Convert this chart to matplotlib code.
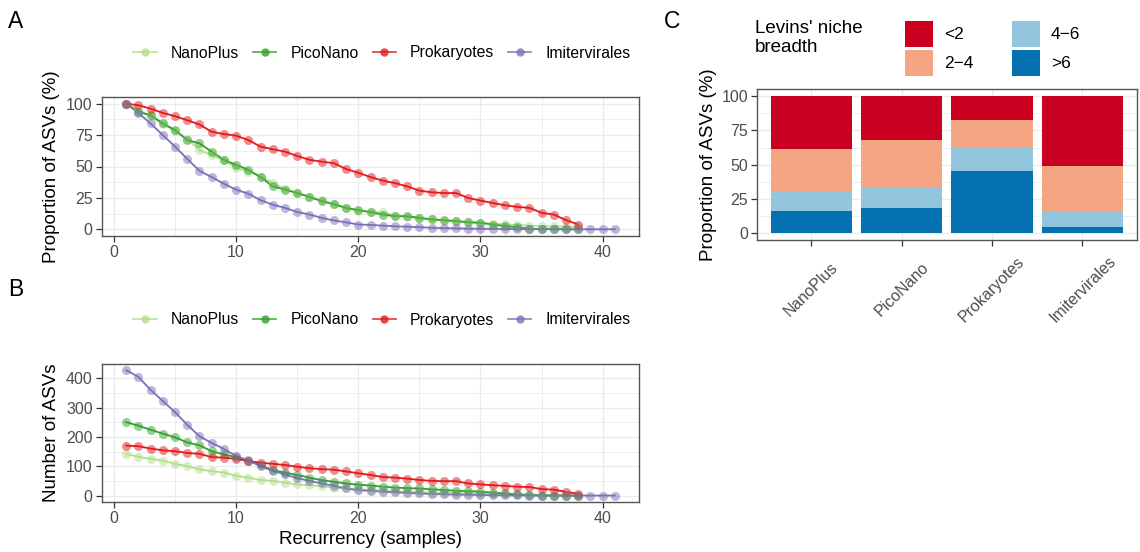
import numpy as np
import matplotlib
matplotlib.use("Agg")
import matplotlib.pyplot as plt
from matplotlib.lines import Line2D
from matplotlib.patches import Patch

plt.rcParams['font.family'] = ['Liberation Sans', 'DejaVu Sans']

# ---------------------------------------------------------------------------
# Data
# ---------------------------------------------------------------------------
GROUPS = ['NanoPlus', 'PicoNano', 'Prokaryotes', 'Imitervirales']
COLORS = ['#B2DF8A', '#33A02C', '#E31A1C', '#7C70B8']

# Panel A: proportion of ASVs (%) present in >= n samples
PROP = {
    'NanoPlus': [100, 95, 90, 84, 78, 72, 63, 59, 55, 49, 46, 42, 37, 32, 29, 26,
                 23, 20, 17, 15, 14, 13.5, 11, 10, 9, 8, 7, 6.5, 5.5, 5, 4.5, 4,
                 3.5, 3, 2.5, 2.5, 2.2, 2],
    'PicoNano': [100, 93.4, 90.8, 84.2, 79, 71, 68.4, 61.8, 55.3, 51.3, 47.4, 41.6,
                 34.2, 31.6, 28.9, 25.8, 22.4, 20, 17.1, 15.3, 13.7, 11.8, 10.5,
                 10.5, 9.2, 7.9, 7.4, 6.6, 5.8, 5.3, 3.9, 2.6, 1.8, 0.5, 0.3, 0.2,
                 0.1, 0.1],
    'Prokaryotes': [100, 98.7, 96, 92.6, 90, 86.8, 83.4, 77.6, 75.8, 74.5, 71, 65.8,
                    63.7, 61.8, 58.4, 55.3, 53.9, 52.6, 48, 45, 41.6, 38.8, 36.8,
                    34.2, 30.8, 29.5, 28.9, 28.9, 25, 22.9, 21, 19.2, 17.9, 17.1,
                    13.2, 11.8, 7.4, 3.9],
    'Imitervirales': [100, 92.6, 84.2, 75, 65.8, 56, 46.6, 41.6, 36.3, 31.6, 28.4,
                      23.2, 19.7, 17.1, 13.9, 11.8, 9.2, 7.1, 5.6, 3.9, 3.6, 3.0,
                      2.5, 2.1, 1.8, 1.3, 1.0, 0.8, 0.6, 0.5, 0.4, 0.3, 0.3, 0.2,
                      0.2, 0.2, 0.1, 0.1, 0.1, 0.1, 0.1],
}

# Panel B: number of ASVs present in >= n samples
COUNT = {
    'NanoPlus': [143, 133, 126, 120, 109, 101, 90, 84, 79, 68, 62, 54, 51, 45, 39,
                 36, 33, 28, 25, 22, 20, 19, 15, 14, 13, 11, 10, 9, 8, 7, 6.5, 6,
                 5, 4.5, 3.5, 3.5, 3, 3],
    'PicoNano': [251, 239, 225, 212, 199, 182, 172, 152, 141, 132, 120, 104, 88, 79,
                 71, 62, 53, 48, 42, 38, 35, 31, 28, 26, 25, 22, 20, 17, 16, 14, 11,
                 8, 5, 2, 1, 0.5, 0.3, 0.3],
    'Prokaryotes': [171, 169, 161, 155, 152, 146, 143, 132, 130, 126, 118, 113, 109,
                    105, 99, 94, 91, 89, 83, 77, 71, 64, 62, 58.6, 54, 51, 50, 50,
                    42, 39, 36, 34, 31, 30, 23, 21, 13.5, 7],
    'Imitervirales': [428, 405, 361, 323, 285, 242, 203, 180, 160, 135, 121, 101, 85,
                      73, 60, 51, 42, 34, 25, 19, 17, 14, 12, 10, 8, 6, 5, 4, 3.4,
                      3, 2, 1.5, 1.2, 1, 1, 1, 1, 1, 1, 1, 1],
}

# Panel C: Levins' niche breadth categories (% of ASVs), bottom to top
BREADTH = ['>6', '4\u22126', '2\u22124', '<2']
BREADTH_COLORS = ['#0571B0', '#92C5DE', '#F4A582', '#CA0020']
BREADTH_PCT = {
    '>6':   [16.1, 18.2, 45.1, 4.6],
    '4\u22126': [14.1, 15.6, 17.7, 11.9],
    '2\u22124': [31.4, 34.3, 19.5, 32.7],
    '<2':   [38.4, 31.9, 17.7, 50.8],
}
LEGEND_ORDER = ['<2', '2\u22124', '4\u22126', '>6']

# ---------------------------------------------------------------------------
# Figure layout (pixel based)
# ---------------------------------------------------------------------------
W, H = 1140, 552
fig = plt.figure(figsize=(W / 100, H / 100), dpi=100)


def px_axes(left, top, right, bottom):
    return fig.add_axes([left / W, 1 - bottom / H, (right - left) / W, (bottom - top) / H])


TICK_COL = '#4D4D4D'
GRID_COL = '#EBEBEB'
TITLE_FS = 13.5
TICK_FS = 11.5


def style_axes(ax):
    for s in ax.spines.values():
        s.set_color('#555555')
        s.set_linewidth(1.0)
    ax.tick_params(axis='both', which='major', length=4, width=0.9, color='#333333',
                   labelcolor=TICK_COL, labelsize=TICK_FS, pad=2.5)
    ax.tick_params(axis='both', which='minor', length=0)
    ax.grid(True, which='major', color=GRID_COL, linewidth=1.0, zorder=0)
    ax.grid(True, which='minor', color=GRID_COL, linewidth=0.6, zorder=0)
    ax.set_axisbelow(True)


def line_panel(ax, data):
    for g, c in zip(GROUPS, COLORS):
        y = np.array(data[g], dtype=float)
        x = np.arange(1, len(y) + 1)
        ax.plot(x, y, color=c, lw=1.3, zorder=3)
        ax.plot(x, y, 'o', color=c, ms=6.5, alpha=0.5, mec='none', zorder=4)
    ax.set_xlim(-1, 43)
    ax.set_xticks([0, 10, 20, 30, 40])
    ax.set_xticks([5, 15, 25, 35], minor=True)
    style_axes(ax)


# Panel A
axA = px_axes(101.7, 97.3, 639.3, 235.7)
line_panel(axA, PROP)
axA.set_ylim(-5, 105)
axA.set_yticks([0, 25, 50, 75, 100])
axA.set_yticks([12.5, 37.5, 62.5, 87.5], minor=True)
axA.set_ylabel('Proportion of ASVs (%)', fontsize=TITLE_FS)
axA.yaxis.set_label_coords(-0.078, 0.5)

# Panel B
axB = px_axes(101.7, 364.3, 639.3, 501.7)
line_panel(axB, COUNT)
axB.set_ylim(-20, 448)
axB.set_yticks([0, 100, 200, 300, 400])
axB.set_yticks([50, 150, 250, 350], minor=True)
axB.set_ylabel('Number of ASVs', fontsize=TITLE_FS)
axB.yaxis.set_label_coords(-0.078, 0.5)
axB.set_xlabel('Recurrency (samples)', fontsize=TITLE_FS)
axB.xaxis.set_label_coords(0.5, -0.215)

# Line legends
handles = [Line2D([0], [0], color=c, lw=1.3, marker='o', ms=6,
                  markerfacecolor=c, markeredgecolor='none', alpha=0.8)
           for c in COLORS]
for yc in (53, 320):
    fig.legend(handles, GROUPS, loc='center', bbox_to_anchor=(382 / W, 1 - yc / H),
               ncol=4, frameon=False, fontsize=11.3, handlelength=1.47,
               handletextpad=0.9, columnspacing=0.9, borderpad=0)

# Panel C
axC = px_axes(757, 89.3, 1136.7, 240)
xpos = np.arange(1, len(GROUPS) + 1)
bottom = np.zeros(len(GROUPS))
for b, c in zip(BREADTH, BREADTH_COLORS):
    vals = np.array(BREADTH_PCT[b])
    axC.bar(xpos, vals, width=0.9, bottom=bottom, color=c, zorder=3)
    bottom += vals
axC.set_xlim(0.4, 4.6)
axC.set_ylim(-5, 105)
axC.set_xticks(xpos)
axC.set_xticklabels([])
axC.set_yticks([0, 25, 50, 75, 100])
axC.set_yticks([12.5, 37.5, 62.5, 87.5], minor=True)
style_axes(axC)
for xp, g in zip(xpos, GROUPS):
    axC.text(xp, -0.325, g, transform=axC.get_xaxis_transform(), rotation=45,
             ha='center', va='center', rotation_mode='anchor',
             fontsize=TICK_FS, color=TICK_COL)
axC.set_ylabel('Proportion of ASVs (%)', fontsize=TITLE_FS)
axC.yaxis.set_label_coords(-0.105, 0.5)

fig.text(755 / W, 1 - 38 / H, "Levins' niche\nbreadth", fontsize=13.5, va='center',
         ha='left', linespacing=1.15)
patches = [Patch(facecolor=BREADTH_COLORS[BREADTH.index(k)]) for k in LEGEND_ORDER]
fig.legend(patches, LEGEND_ORDER, loc='upper left',
           bbox_to_anchor=(905 / W, 1 - 20.7 / H), ncol=2, frameon=False,
           fontsize=12.5, handlelength=1.61, handleheight=1.96, labelspacing=0.14,
           handletextpad=0.65, columnspacing=2.2, borderpad=0, borderaxespad=0)

# Panel tags
fig.text(8 / W, 1 - 22 / H, 'A', fontsize=16.5, va='center')
fig.text(8 / W, 1 - 289 / H, 'B', fontsize=16.5, va='center')
fig.text(664 / W, 1 - 22 / H, 'C', fontsize=16.5, va='center')

fig.savefig('out.png', dpi=100)
